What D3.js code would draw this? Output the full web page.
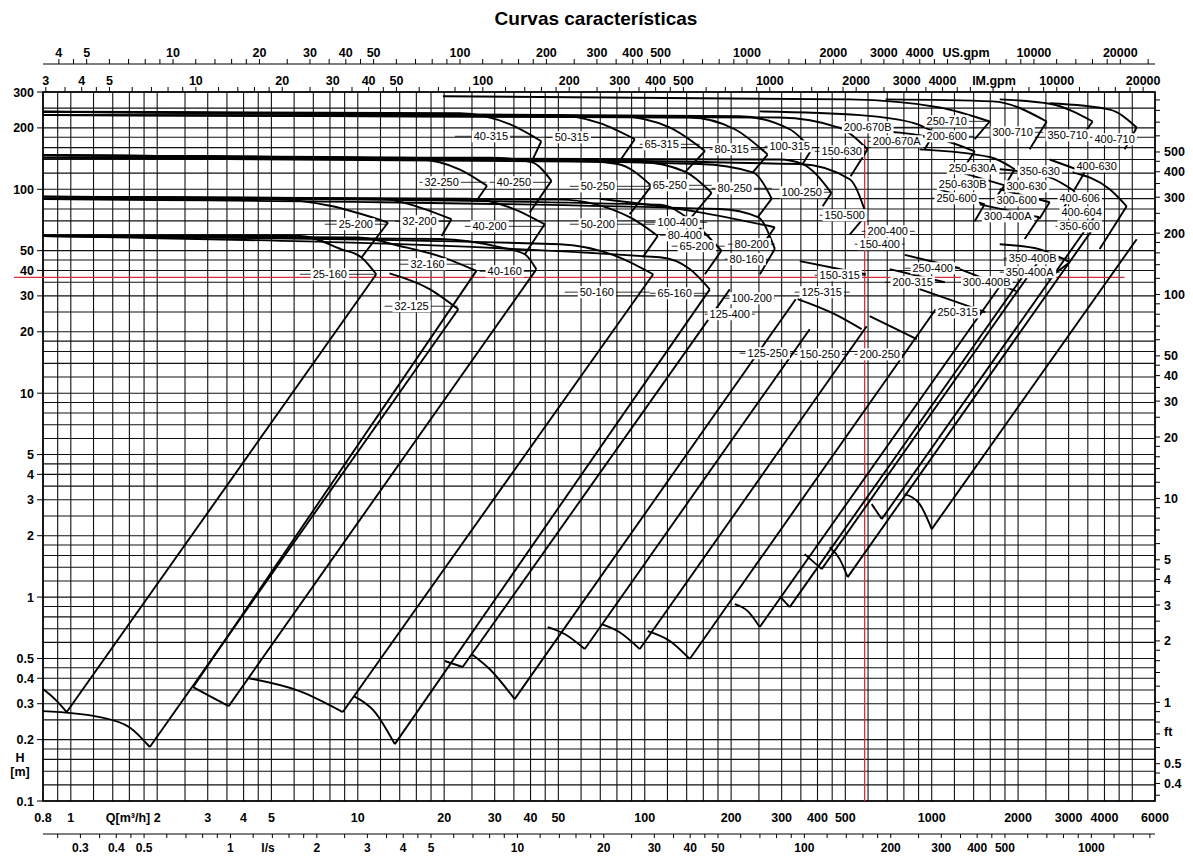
<!DOCTYPE html>
<html>
<head>
<meta charset="utf-8">
<script src="https://cdn.jsdelivr.net/npm/d3@7/dist/d3.min.js"></script>
<style>
body { margin: 0; background: #fff; }
text { font-family: "Liberation Sans", Arial, Helvetica, sans-serif; }
</style>
</head>
<body>
<svg id="chart" width="1193" height="856"></svg>
<script>
// axis tick labels
const qTicks = [0.8, 1, 2, 3, 4, 5, 10, 20, 30, 40, 50, 100, 200, 300, 400, 500, 1000, 2000, 3000, 4000, 6000];
const hTicks = [300, 200, 100, 50, 40, 30, 20, 10, 5, 4, 3, 2, 1, 0.5, 0.4, 0.3, 0.2, 0.1];
const ftTicks = [500, 400, 300, 200, 100, 50, 40, 30, 20, 10, 5, 4, 3, 2, 1, 0.5, 0.4];
const lsTicks = [0.3, 0.4, 0.5, 1, 2, 3, 4, 5, 10, 20, 30, 40, 50, 100, 200, 300, 400, 500, 1000];
const usTicks = [4, 5, 10, 20, 30, 40, 50, 100, 200, 300, 400, 500, 1000, 2000, 3000, 4000, 10000, 20000];
const imTicks = [3, 4, 5, 10, 20, 30, 40, 50, 100, 200, 300, 400, 500, 1000, 2000, 3000, 4000, 10000, 20000];
const gridSteps = [1, 1.2, 1.4, 1.6, 1.8, 2, 2.5, 3, 3.5, 4, 4.5, 5, 6, 7, 8, 9];

// unit factors from m3/h and m
const US_GPM = 4.4029, IM_GPM = 3.6662, LS = 1 / 3.6, FT = 3.2808;

// duty point (red cross)
const dutyQ = 584, dutyH = 37;

// maximum impeller curves  [Q m3/h, H m]
const topCurves = [
  ["40-315", [[0.8, 240], [22.7, 236], [34, 208], [43.6, 172]]],
  ["50-315", [[0.8, 231], [48.6, 231], [69.7, 211], [92.3, 176]]],
  ["65-315", [[0.8, 240], [81.8, 228], [122, 201], [162, 154]]],
  ["80-315", [[0.8, 231], [143, 225], [206, 197], [268, 148]]],
  ["100-315", [[0.8, 240], [214, 228], [320, 197], [382, 157]]],
  ["150-630", [[0.8, 231], [295, 225], [478, 200], [598, 157]]],
  ["32-250", [[0.8, 147], [16.4, 140], [22.7, 125], [28.2, 104]]],
  ["40-250", [[0.8, 143], [28.8, 143], [40.3, 136], [47.3, 110]]],
  ["50-250", [[0.8, 147], [50.6, 140], [80.5, 133], [105.5, 104]]],
  ["65-250", [[0.8, 143], [96.1, 136], [138, 122], [171, 96]]],
  ["80-250", [[0.8, 147], [155, 133], [238, 121], [277, 90]]],
  ["100-250", [[0.8, 143], [295, 140], [355, 133], [447, 96]]],
  ["150-500", [[0.8, 147], [347, 133], [518, 112], [592, 75]]],
  ["25-200", [[0.8, 89.5], [5.06, 89.5], [8, 83], [12.75, 68.7]]],
  ["32-200", [[0.8, 92], [11.9, 90], [16.4, 81.6], [21.2, 71.3]]],
  ["40-200", [[0.8, 92], [24.6, 90], [33.8, 81.6], [44.8, 67.4]]],
  ["50-200", [[0.8, 89.5], [50.6, 89], [88.6, 73], [111, 59]]],
  ["65-200", [[0.8, 92], [112.8, 84], [143.5, 71], [185, 50]]],
  ["80-200", [[0.8, 89.5], [182, 80], [248, 73], [284, 51]]],
  ["100-400", [[69.7, 89.8], [155.5, 77.1], [283.8, 65.1]]],
  ["25-160", [[0.8, 59], [6.3, 59], [8.77, 50.8], [10.3, 46.3], [11.6, 38.3]]],
  ["32-160", [[0.8, 59], [10.1, 58], [14, 52.7], [19.8, 46.4], [25.9, 39.8]]],
  ["40-160", [[0.8, 59], [19.3, 57], [31.2, 52], [38.2, 48], [41.9, 40.5]]],
  ["50-160", [[0.8, 59], [50.6, 53.8], [81.5, 46.4], [107, 38.3]]],
  ["65-160", [[0.8, 59], [113, 46.4], [143.5, 40.6], [168.5, 32.3]]],
  ["32-125", [[12.9, 38.7], [17.8, 32.4], [22.4, 25.8]]],
  ["250-710", [[19.8, 286], [518, 276], [1066, 252], [1593, 215]]],
  ["300-710", [[691, 276], [1632, 270], [2516, 215]]],
  ["350-710", [[1726, 276], [2600, 262], [3639, 215]]],
  ["400-710", [[2577, 264], [4172, 246], [5180, 201]]],
  ["200-670B", [[251.6, 241], [561, 231], [872.6, 210.6], [1024.6, 190.3]]],
  ["200-600", [[561, 196], [1066, 176], [1412, 153.6]]],
  ["250-630A", [[908, 157], [1606, 143.6], [1946, 125.3]]],
  ["250-630B", [[1164, 125.3], [1797, 104.6]]],
  ["250-600", [[1066, 100], [1530, 84.4]]],
  ["300-630", [[1726, 125.3], [2577, 114.5], [3150, 97.8]]],
  ["300-600", [[1726, 100], [2577, 86.4]]],
  ["300-400A", [[1470, 84.4], [2370, 72.9]]],
  ["350-630", [[2577, 140], [3413, 121.2]]],
  ["400-630", [[3099, 121.2], [4172, 100], [4780, 82.5]]],
  ["350-400B", [[1726, 53.8], [2370, 50.9], [3026, 43.9]]],
  ["300-400B", [[1252, 40.6], [1973, 31.7]]],
  ["250-400", [[805, 47.7], [1252, 41]]],
  ["200-315", [[714, 40.6], [1110, 35]]],
  ["250-315", [[908, 32.4], [1540, 25]]],
  ["150-315", [[347, 44.4], [589, 38.3]]],
  ["125-315", [[341, 28.9], [459, 24.4], [570, 20.6]]],
  ["200-250", [[608, 23.9], [887, 18.4]]]
];

// end of curve down to the curve below
const notches = [
  [[43.6, 172], [40.3, 136]], [[92.3, 176], [80.5, 133]], [[162, 154], [138, 121]],
  [[268, 148], [238, 121]], [[382, 157], [355, 133]], [[598, 157], [522, 116]],
  [[28.2, 104], [25.9, 87.6]], [[47.3, 110], [39.7, 76.9]], [[105.5, 104], [88.6, 75.4]],
  [[171, 96], [143.5, 71.3]], [[277, 90], [247.6, 72.9]], [[447, 96], [417, 82.5]],
  [[592, 75], [518, 60]], [[12.75, 68.7], [10.3, 46.3]], [[21.2, 71.3], [19.6, 59]],
  [[44.8, 67.4], [38.2, 48]], [[111, 59], [98.4, 46.4]], [[185, 50], [162, 38.3]],
  [[284, 51], [252, 38.3]], [[283.8, 65.1], [251.6, 50.9]],
  [[1593, 215], [1412, 176]], [[2516, 215], [2195, 157]],
  [[3639, 215], [3279, 176]], [[5180, 201], [4704, 157]],
  [[1024.6, 190.3], [945.5, 157]], [[1412, 153.6], [1252, 118.4]],
  [[1946, 125.3], [1768, 100]], [[1797, 104.6], [1658, 89.8]], [[1530, 84.4], [1412, 69.7]],
  [[3150, 97.8], [2861, 80]], [[2577, 86.4], [2370, 71.5]], [[2370, 72.9], [2109, 57]],
  [[3413, 121.2], [3150, 100]], [[4780, 82.5], [3849, 50.9]], [[3026, 43.9], [2537, 36.3]]
];

// speed reduction limits
const diagonals = [
  [[11.6, 38.3], [0.968, 0.273]],
  [[22.4, 25.8], [1.885, 0.184]],
  [[25.9, 39.8], [2.67, 0.362]],
  [[41.9, 40.5], [3.55, 0.292]],
  [[107, 38.3], [8.87, 0.273]],
  [[168.5, 32.3], [13.46, 0.19]],
  [[197.8, 32.3], [23.2, 0.454]],
  [[335.9, 28.9], [35.2, 0.316]],
  [[375.8, 20.6], [61.8, 0.556]],
  [[593.6, 21.3], [96.1, 0.556]],
  [[1033, 25.8], [143.5, 0.497]],
  [[1768, 35], [251.6, 0.713]],
  [[2126, 39.2], [320, 0.893]],
  [[2398, 45.9], [413.7, 1.372]],
  [[3698, 65.8], [509.6, 1.253]],
  [[3788, 77.1], [669.6, 2.413]],
  [[5180, 56.9], [1000, 2.154]]
];

// minimum speed curves
const lowArcs = [
  [[0.8, 0.354], [0.88, 0.316], [0.968, 0.273]],
  [[0.8, 0.276], [1.26, 0.258], [1.6, 0.23], [1.885, 0.184]],
  [[2.67, 0.362], [3.05, 0.327], [3.55, 0.292]],
  [[4.17, 0.4], [6.27, 0.346], [8.87, 0.273]],
  [[9.68, 0.327], [11.4, 0.276], [13.46, 0.19]],
  [[20.1, 0.486], [23.2, 0.454]],
  [[24.97, 0.525], [28.8, 0.444], [35.2, 0.316]],
  [[45.9, 0.713], [52.6, 0.659], [61.8, 0.556]],
  [[70.8, 0.737], [81.5, 0.674], [96.1, 0.556]],
  [[102.4, 0.681], [122.3, 0.609], [143.5, 0.497]],
  [[205.9, 0.924], [228.5, 0.854], [251.6, 0.713]],
  [[295.4, 1.01], [320, 0.893]],
  [[361, 1.625], [413.7, 1.372]],
  [[441, 1.758], [478, 1.536], [509.6, 1.253]],
  [[618, 2.857], [669.6, 2.413]],
  [[805, 3.2], [908, 2.857], [1000, 2.154]]
];

// labels: text, Q centre, H, leader from Q, leader to Q
const labels = [
  ["25-160", 7.99, 38.3, 6.28, 11.55],
  ["32-125", 15.4, 26.7, 12.4, 22.3],
  ["32-160", 17.5, 42.9, 14.0, 25.8],
  ["40-160", 32.5, 39.6, 26.6, 41.7],
  ["25-200", 9.84, 67.4, 7.67, 12.7],
  ["32-200", 16.4, 69.7, 13.46, 21.2],
  ["40-200", 28.8, 65.8, 23.6, 44.8],
  ["50-200", 68.6, 67.4, 54.8, 108.3],
  ["32-250", 19.6, 108.2, 16.4, 28.1],
  ["40-250", 35, 108.2, 28.8, 47.4],
  ["50-250", 68.6, 103.4, 54.8, 105.8],
  ["65-250", 122.3, 104.6, 102.4, 171.2],
  ["80-250", 205.9, 101.1, 171.2, 277],
  ["100-250", 352.4, 96.7, 295.4, 448.3],
  ["40-315", 29.1, 181.9, 21.8, 41.4],
  ["50-315", 55.7, 179.8, 44.8, 85.2],
  ["65-315", 114.6, 166.2, 96.1, 155.5],
  ["80-315", 201, 157, 168.5, 261.9],
  ["100-315", 320, 162.5, 262, 382],
  ["150-630", 485.9, 153.6, 391.2, 589],
  ["50-160", 68.1, 31.3, 52.6, 104.1],
  ["65-160", 127.2, 30.9, 104.1, 165.8],
  ["80-160", 226.7, 45.4, 190, 268.3],
  ["100-200", 235.9, 29.2, 190, 283.8],
  ["125-400", 197.8, 24.4, 161.8, 241.7],
  ["100-400", 130.3, 68.9, 100, 165],
  ["80-400", 137.9, 59.5, 112.8, 168.5],
  ["65-200", 151.8, 52.6, 124.2, 190],
  ["80-200", 235.9, 53.8, 195, 283.8],
  ["125-250", 268.3, 15.7, 214.3, 333],
  ["150-250", 407.2, 15.5, 333, 509.6],
  ["200-250", 658.9, 15.5, 539.3, 805],
  ["125-315", 413.7, 31.3, 333, 518],
  ["150-315", 478, 37.9, 391, 589],
  ["200-315", 858.6, 35, 685.8, 1110],
  ["250-315", 1232, 24.9, 984, 1530],
  ["250-400", 1008, 41, 805, 1252],
  ["300-400B", 1555, 35, 1252, 1946],
  ["350-400A", 2195, 39.2, 1726, 2793],
  ["350-400B", 2248, 45.9, 1780, 3026],
  ["150-400", 658.9, 53.8, 539.3, 805],
  ["200-400", 702.6, 62.2, 570, 872.6],
  ["150-500", 497.7, 74.6, 407, 589],
  ["200-600", 1128, 181.9, 900, 1400],
  ["200-670A", 755, 171.9, 600, 930],
  ["200-670B", 598.4, 201.4, 470, 950],
  ["250-710", 1128, 215.4, 960, 1593],
  ["250-630A", 1389, 126.7, 1150, 1650],
  ["250-630B", 1282, 105.8, 1060, 1530],
  ["250-600", 1222, 90.4, 1000, 1450],
  ["300-710", 1915, 190.3, 1600, 2450],
  ["300-630", 2143, 103.4, 1800, 2500],
  ["300-600", 1978, 88.3, 1650, 2350],
  ["300-400A", 1840, 73.7, 1500, 2250],
  ["350-710", 2978, 183.9, 2500, 3550],
  ["350-630", 2379, 122.5, 1980, 2850],
  ["350-600", 3279, 65.8, 2700, 3900],
  ["400-710", 4341, 175.9, 3700, 5200],
  ["400-630", 3756, 129.6, 3150, 4450],
  ["400-606", 3279, 90.4, 2750, 3900],
  ["400-604", 3331, 77.1, 2800, 3950]
];

const svg = d3.select("#chart");
const x = d3.scaleLog().domain([0.8, 6000]).range([43, 1155]);
const y = d3.scaleLog().domain([0.1, 300]).range([801, 92]);

function gridValues(lo, hi) {
  const out = [];
  for (let e = -3; e <= 4; e++) {
    gridSteps.forEach(m => {
      const v = +(m * Math.pow(10, e)).toPrecision(6);
      if (v >= lo * 0.9999 && v <= hi * 1.0001) out.push(v);
    });
  }
  return out;
}
const fmt = v => String(v);

// title
svg.append("text").attr("x", 596).attr("y", 25).attr("text-anchor", "middle")
  .attr("font-size", 19).attr("font-weight", "bold").text("Curvas características");

// grid
const grid = svg.append("g").attr("stroke", "#111").attr("stroke-width", 1.1);
gridValues(0.8, 6000).forEach(v => {
  grid.append("line").attr("x1", x(v)).attr("x2", x(v)).attr("y1", y(300)).attr("y2", y(0.1));
});
gridValues(0.1, 300).forEach(v => {
  grid.append("line").attr("x1", x(0.8)).attr("x2", x(6000)).attr("y1", y(v)).attr("y2", y(v));
});
svg.append("rect").attr("x", x(0.8)).attr("y", y(300)).attr("width", x(6000) - x(0.8))
  .attr("height", y(0.1) - y(300)).attr("fill", "none").attr("stroke", "#000").attr("stroke-width", 1.6);

// left H axis
const axL = svg.append("g").attr("font-size", 12.5).attr("font-weight", "bold");
hTicks.forEach(v => {
  axL.append("line").attr("x1", 37).attr("x2", 43).attr("y1", y(v)).attr("y2", y(v)).attr("stroke", "#000");
  axL.append("text").attr("x", 34).attr("y", y(v) + 4.5).attr("text-anchor", "end").text(fmt(v));
});
axL.append("text").attr("x", 20).attr("y", 762).attr("text-anchor", "middle").text("H");
axL.append("text").attr("x", 20).attr("y", 776).attr("text-anchor", "middle").text("[m]");

// right ft axis
const axR = svg.append("g").attr("font-size", 12.5).attr("font-weight", "bold");
gridValues(0.35, 900).filter(v => y(v / FT) >= 92 && y(v / FT) <= 801).forEach(v => {
  axR.append("line").attr("x1", 1155).attr("x2", 1160).attr("y1", y(v / FT)).attr("y2", y(v / FT)).attr("stroke", "#000");
});
ftTicks.forEach(v => {
  axR.append("text").attr("x", 1164).attr("y", y(v / FT) + 4.5).text(fmt(v));
});
axR.append("text").attr("x", 1164).attr("y", y(0.22) + 4.5).text("ft");

// bottom Q axis
const axB = svg.append("g").attr("font-size", 12.5).attr("font-weight", "bold");
qTicks.forEach(v => {
  axB.append("text").attr("x", x(v)).attr("y", 822).attr("text-anchor", "middle").text(fmt(v));
});
axB.append("text").attr("x", 128).attr("y", 822).attr("text-anchor", "middle").text("Q[m³/h]");

// l/s axis
const axS = svg.append("g").attr("font-size", 12).attr("font-weight", "bold");
axS.append("line").attr("x1", x(0.8)).attr("x2", x(6000)).attr("y1", 834).attr("y2", 834).attr("stroke", "#000");
gridValues(0.8 * LS, 6000 * LS).forEach(v => {
  axS.append("line").attr("x1", x(v / LS)).attr("x2", x(v / LS)).attr("y1", 834).attr("y2", 838).attr("stroke", "#000");
});
lsTicks.forEach(v => {
  axS.append("text").attr("x", x(v / LS)).attr("y", 852).attr("text-anchor", "middle").text(fmt(v));
});
axS.append("text").attr("x", 268).attr("y", 852).attr("text-anchor", "middle").text("l/s");

// US gpm axis
const axU = svg.append("g").attr("font-size", 12.5).attr("font-weight", "bold");
axU.append("line").attr("x1", x(0.8)).attr("x2", x(6000)).attr("y1", 64).attr("y2", 64).attr("stroke", "#000");
gridValues(0.8 * US_GPM, 6000 * US_GPM).forEach(v => {
  axU.append("line").attr("x1", x(v / US_GPM)).attr("x2", x(v / US_GPM)).attr("y1", 64).attr("y2", 59).attr("stroke", "#000");
});
usTicks.forEach(v => {
  axU.append("text").attr("x", x(v / US_GPM)).attr("y", 57).attr("text-anchor", "middle").text(fmt(v));
});
axU.append("text").attr("x", 966).attr("y", 57).attr("text-anchor", "middle").text("US.gpm");

// IM gpm axis on top frame
const axI = svg.append("g").attr("font-size", 12.5).attr("font-weight", "bold");
gridValues(0.8 * IM_GPM, 6000 * IM_GPM).forEach(v => {
  axI.append("line").attr("x1", x(v / IM_GPM)).attr("x2", x(v / IM_GPM)).attr("y1", 92).attr("y2", 87).attr("stroke", "#000");
});
imTicks.forEach(v => {
  axI.append("text").attr("x", x(v / IM_GPM)).attr("y", 85).attr("text-anchor", "middle").text(fmt(v));
});
axI.append("text").attr("x", 994).attr("y", 85).attr("text-anchor", "middle").text("IM.gpm");

// red duty lines
svg.append("line").attr("x1", 14).attr("x2", x(4700)).attr("y1", y(dutyH)).attr("y2", y(dutyH))
  .attr("stroke", "#d32f3c").attr("stroke-width", 1.3);
svg.append("line").attr("x1", x(dutyQ)).attr("x2", x(dutyQ)).attr("y1", y(176)).attr("y2", y(0.1))
  .attr("stroke", "#d32f3c").attr("stroke-width", 1.3);

// curves
const line = d3.line().x(d => x(d[0])).y(d => y(d[1])).curve(d3.curveMonotoneX);
const straight = d3.line().x(d => x(d[0])).y(d => y(d[1]));
const curves = svg.append("g").attr("fill", "none").attr("stroke", "#000").attr("stroke-width", 1.9)
  .attr("stroke-linejoin", "round");
topCurves.forEach(c => curves.append("path").attr("d", line(c[1])));
lowArcs.forEach(c => curves.append("path").attr("d", line(c)));
notches.forEach(c => curves.append("path").attr("d", straight(c)));
diagonals.forEach(c => curves.append("path").attr("d", straight(c)));

// labels with leader lines
const lab = svg.append("g").attr("font-size", 11);
labels.forEach(l => {
  const cx = x(l[1]), cy = y(l[2]);
  lab.append("line").attr("x1", x(l[3])).attr("x2", x(l[4])).attr("y1", cy).attr("y2", cy)
    .attr("stroke", "#000").attr("stroke-width", 0.8);
  const t = lab.append("text").attr("x", cx).attr("y", cy + 4).attr("text-anchor", "middle").text(l[0]);
  const bb = t.node().getBBox();
  lab.insert("rect", () => t.node()).attr("x", bb.x - 2).attr("y", bb.y).attr("width", bb.width + 4)
    .attr("height", bb.height).attr("fill", "#fff");
});
</script>
</body>
</html>
